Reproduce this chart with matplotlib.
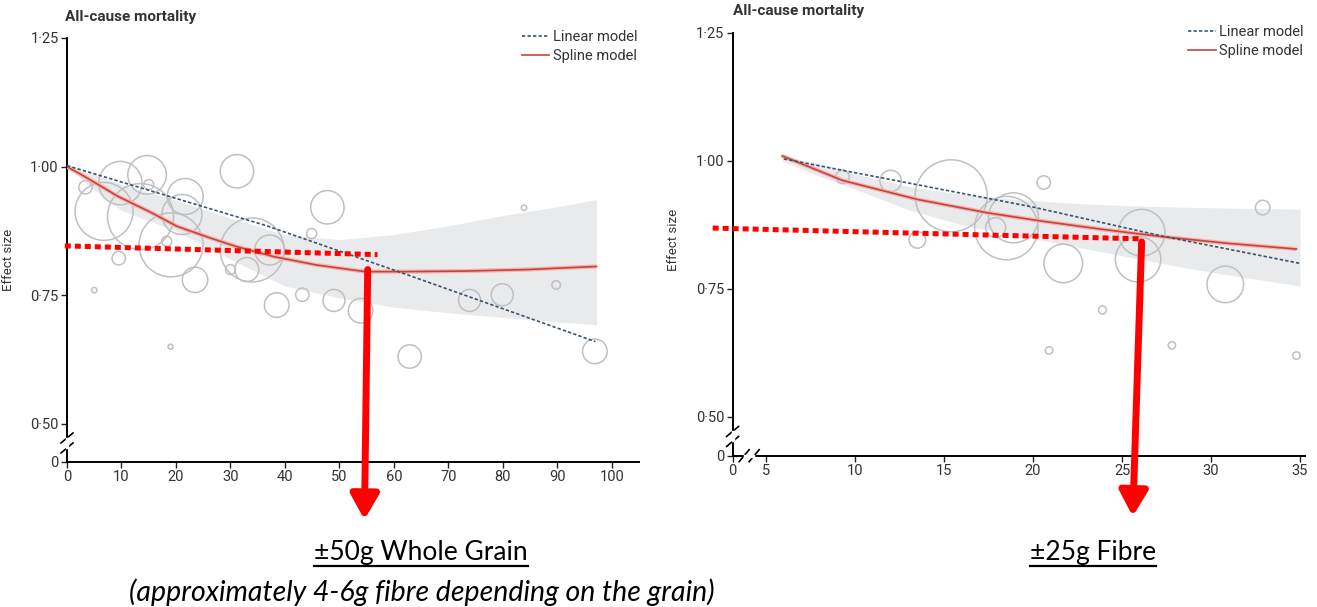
import numpy as np
import matplotlib
matplotlib.use("Agg")
import matplotlib.pyplot as plt

plt.rcParams['font.family'] = ['Roboto', 'DejaVu Sans']

# whole grain panel (g/day)
wg_bub_x = [3.4, 9.8, 14.7, 6.8, 13.5, 21.7, 21.1, 19.1, 18.3, 9.5, 23.5, 31.2, 34.0, 33.0, 30.0, 5.0,
            15.0, 47.8, 44.9, 37.2, 38.5, 43.2, 49.0, 53.9, 83.9, 89.8, 73.9, 79.9, 96.9, 62.9, 19.0]
wg_bub_y = [0.960, 0.968, 0.984, 0.913, 0.903, 0.942, 0.907, 0.848, 0.855, 0.822, 0.780, 0.991, 0.838, 0.800,
            0.800, 0.760, 0.965, 0.921, 0.870, 0.838, 0.731, 0.751, 0.740, 0.720, 0.920, 0.770, 0.740, 0.751,
            0.641, 0.631, 0.650]
wg_bub_r = [6.7, 21.7, 19.3, 29, 33, 18, 20, 32, 5, 6.7, 12.7, 16.7, 32, 12, 5, 2.7,
            5, 16.7, 5, 15, 12.3, 6.7, 11, 12.3, 2.7, 4.3, 11, 11, 12.3, 11.7, 2.5]
wg_lin_x = [0, 36.7, 61.1, 97]
wg_lin_y = [1.002, 0.885, 0.795, 0.660]
wg_spl_x = [0, 3.2, 9.4, 15.6, 20.2, 26.4, 31, 38, 45.7, 54.7, 62, 72.9, 84.5, 97.2]
wg_spl_y = [1.00, 0.981, 0.942, 0.91, 0.884, 0.861, 0.845, 0.825, 0.809, 0.796, 0.796, 0.797, 0.80, 0.806]
wg_band_x = [0, 5, 10, 20, 30, 40, 50, 60, 70, 80, 90, 97.2]
wg_band_hi = [1.0, 0.985, 0.965, 0.935, 0.90, 0.868, 0.858, 0.868, 0.885, 0.905, 0.922, 0.936]
wg_band_lo = [1.0, 0.955, 0.915, 0.875, 0.82, 0.768, 0.745, 0.727, 0.716, 0.707, 0.698, 0.693]
wg_xticks = [0, 10, 20, 30, 40, 50, 60, 70, 80, 90, 100]

# fibre panel (g/day)
fb_bub_x = [9.3, 12.0, 15.4, 13.5, 17.9, 18.5, 18.9, 20.6, 21.7, 26.1, 25.9, 30.8, 32.9, 23.9, 20.9, 27.8, 34.8]
fb_bub_y = [0.969, 0.961, 0.932, 0.846, 0.870, 0.869, 0.889, 0.958, 0.800, 0.860, 0.808, 0.759, 0.909, 0.709,
            0.630, 0.640, 0.620]
fb_bub_r = [6.7, 10.7, 36, 8.3, 10, 31.7, 25, 6.7, 19.3, 23.3, 22.7, 18.3, 7.3, 4, 3.7, 3.7, 3.7]
fb_lin_x = [6, 20, 27.3, 35]
fb_lin_y = [1.004, 0.91, 0.853, 0.80]
fb_spl_x = [5.9, 9.3, 13.5, 17.4, 20.4, 24, 27.3, 31, 34.8]
fb_spl_y = [1.01, 0.962, 0.925, 0.899, 0.883, 0.866, 0.852, 0.839, 0.828]
fb_band_x = [5.9, 8, 10, 13, 16, 19, 22, 25, 28, 31, 35]
fb_band_hi = [1.01, 0.995, 0.975, 0.95, 0.935, 0.925, 0.918, 0.913, 0.91, 0.908, 0.906]
fb_band_lo = [1.0, 0.97, 0.945, 0.905, 0.875, 0.855, 0.835, 0.815, 0.795, 0.777, 0.756]
fb_xticks = [5, 10, 15, 20, 25, 30, 35]

# red reading marks drawn over the charts
wg_read_x = [-0.4, 57]
wg_read_y = [0.846, 0.829]
wg_arrow = (55.2, 0.80, 54.6, 0.314)
fb_read_x = [2.0, 26.0]
fb_read_y = [0.869, 0.848]
fb_arrow = (26.1, 0.842, 25.6, 0.306)

ytick_vals = [0.5, 0.75, 1.0, 1.25]
ytick_labels = ['0·50', '0·75', '1·00', '1·25']

BUB = '#c0c0c0'
LIN = '#3a5470'
SPL = '#c9433b'
BAND = '#e9eaec'
RED = '#ff0000'


def draw_panel(ax, bx, by, br, lx, ly, sx, sy, gx, ghi, glo, y_zero, x_zero, xticks, xlim):
    ax.fill_between(gx, glo, ghi, color=BAND, lw=0, zorder=1)
    s = [(2 * r * 0.72) ** 2 for r in br]
    ax.scatter(bx, by, s=s, facecolors='none', edgecolors=BUB, linewidths=1.1, zorder=2)
    ax.plot(sx, sy, color='#f2b5b0', lw=3.0, zorder=3, solid_capstyle='butt')
    ax.plot(sx, sy, color=SPL, lw=1.2, zorder=4, label='Spline model')
    ax.plot(lx, ly, color=LIN, lw=1.2, dashes=(2.0, 1.3), zorder=5, label='Linear model')

    ax.set_xlim(*xlim)
    ax.set_ylim(y_zero, 1.25)
    for s_ in ['top', 'right']:
        ax.spines[s_].set_visible(False)
    for s_ in ['left', 'bottom']:
        ax.spines[s_].set_linewidth(1.4)
    ax.spines['left'].set_bounds(y_zero, 1.25)

    ax.set_yticks([y_zero] + ytick_vals)
    ax.set_yticklabels(['0'] + ytick_labels)
    if x_zero in xticks:
        ax.set_xticks(xticks)
        ax.set_xticklabels([str(t) for t in xticks])
    else:
        ax.set_xticks([x_zero] + xticks)
        ax.set_xticklabels(['0'] + [str(t) for t in xticks])
    ax.tick_params(axis='both', length=4, width=1.0, labelsize=10.5, pad=2, colors='#222222')
    ax.tick_params(axis='both', labelcolor='#333333')

    h, l = ax.get_legend_handles_labels()
    ax.legend(h[::-1], l[::-1], loc='upper right', bbox_to_anchor=(1.01, 1.035), frameon=False,
              fontsize=10.5, handlelength=1.9, handletextpad=0.25, labelspacing=0.3, borderpad=0,
              labelcolor='#333333')
    ax.set_ylabel('Effect size', fontsize=9.5, color='#333333')
    ax.text(-0.004, 1.05, 'All-cause mortality', transform=ax.transAxes, fontsize=11,
            fontweight='bold', color='#333333', va='center', ha='left')


fig = plt.figure(figsize=(13.17, 6.07), dpi=100)
ax1 = fig.add_axes([0.05087, 0.23888, 0.43432, 0.69852])
ax2 = fig.add_axes([0.55626, 0.24926, 0.43493, 0.69638])

draw_panel(ax1, wg_bub_x, wg_bub_y, wg_bub_r, wg_lin_x, wg_lin_y, wg_spl_x, wg_spl_y,
           wg_band_x, wg_band_hi, wg_band_lo, 0.426, 0, wg_xticks, (0, 105))
draw_panel(ax2, fb_bub_x, fb_bub_y, fb_bub_r, fb_lin_x, fb_lin_y, fb_spl_x, fb_spl_y,
           fb_band_x, fb_band_hi, fb_band_lo, 0.4244, 3.12, fb_xticks, (3.12, 35.3))
ax1.yaxis.set_label_coords(-0.091, 0.476)
ax2.yaxis.set_label_coords(-0.091, 0.51)
ax2.texts[0].set_position((0.0, 1.052))


def break_marks(ax, x, y, horizontal=False):
    # two short slashes across an axis line, white gap between them
    px, py = ax.transData.transform((x, y))
    for off in (-5, 5):
        if horizontal:
            xs = np.array([px + off - 5, px + off + 5])
            ys = np.array([py - 6, py + 6])
        else:
            xs = np.array([px - 6, px + 6])
            ys = np.array([py + off - 5, py + off + 5])
        fx, fy = fig.transFigure.inverted().transform(np.c_[xs, ys]).T
        fig.add_artist(plt.Line2D(fx, fy, color='black', lw=1.2))
    if horizontal:
        a = fig.transFigure.inverted().transform([(px - 4, py), (px + 4, py)])
    else:
        a = fig.transFigure.inverted().transform([(px, py - 4), (px, py + 4)])
    fig.add_artist(plt.Line2D(a[:, 0], a[:, 1], color='white', lw=2.5))


break_marks(ax1, 0, 0.463)
break_marks(ax2, 3.12, 0.462)
break_marks(ax2, 4.05, 0.4244, horizontal=True)

# red reading lines and arrows
for ax, rx, ry, ar in [(ax1, wg_read_x, wg_read_y, wg_arrow), (ax2, fb_read_x, fb_read_y, fb_arrow)]:
    ax.plot(rx, ry, color=RED, lw=3.6, dashes=(1.2, 0.8), solid_capstyle='butt',
            dash_capstyle='butt', zorder=8, clip_on=False)
    ax.annotate('', xy=(ar[2], ar[3]), xytext=(ar[0], ar[1]), xycoords='data',
                annotation_clip=False, zorder=9,
                arrowprops=dict(arrowstyle='-|>,head_length=1.5,head_width=0.85', color=RED,
                                lw=5, mutation_scale=10, shrinkA=0, shrinkB=0))

# captions
labels = [(0.3197, 0.089, '±50g Whole Grain', 'normal', 19),
          (0.830, 0.089, '±25g Fibre', 'normal', 19),
          (0.3204, 0.0247, '(approximately 4-6g fibre depending on the grain)', 'italic', 20.5)]
txts = []
for x, y, s, st, fs in labels:
    txts.append(fig.text(x, y, s, ha='center', va='center', fontsize=fs, style=st,
                         family=['Lato', 'DejaVu Sans']))
fig.canvas.draw()
r = fig.canvas.get_renderer()
for t in txts[:2]:
    bb = t.get_window_extent(r)
    uy = bb.y0 - 1
    a = fig.transFigure.inverted().transform([(bb.x0, uy), (bb.x1, uy)])
    fig.add_artist(plt.Line2D(a[:, 0], a[:, 1], color='black', lw=1.6))

fig.savefig('out.png', dpi=100)
